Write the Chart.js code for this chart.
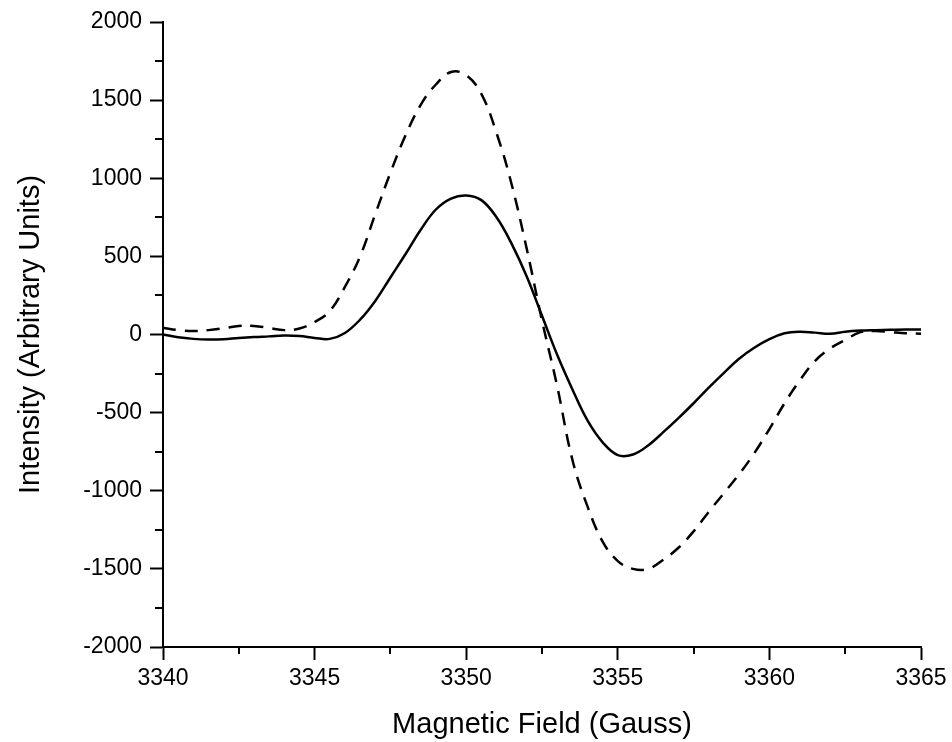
<!DOCTYPE html>
<html>
<head>
<meta charset="utf-8">
<script src="https://cdn.jsdelivr.net/npm/chart.js@4/dist/chart.umd.min.js"></script>
<style>
  body { margin: 0; background: #fff; }
  #wrap { width: 952px; height: 742px; }
</style>
</head>
<body>
<div id="wrap"><canvas id="chart"></canvas></div>
<script>
// field values (Gauss), shared by both traces
const field = [3340.0, 3340.5, 3341.0, 3341.5, 3342.0, 3342.5, 3343.0, 3343.5, 3344.0, 3344.5,
  3345.0, 3345.5, 3346.0, 3346.5, 3347.0, 3347.5, 3348.0, 3348.5, 3349.0, 3349.5,
  3350.0, 3350.5, 3351.0, 3351.5, 3352.0, 3352.5, 3353.0, 3353.5, 3354.0, 3354.5,
  3355.0, 3355.5, 3356.0, 3356.5, 3357.0, 3357.5, 3358.0, 3358.5, 3359.0, 3359.5,
  3360.0, 3360.5, 3361.0, 3361.5, 3362.0, 3362.5, 3363.0, 3363.5, 3364.0, 3364.5,
  3365.0];

// solid trace
const intensitySolid = [0, -18, -28, -32, -30, -22, -16, -12, -7, -10,
  -22, -28, 10, 95, 215, 365, 515, 670, 800, 870,
  890, 860, 750, 580, 370, 120, -130, -350, -550, -690,
  -772, -768, -710, -625, -535, -440, -340, -245, -155, -85,
  -30, 8, 18, 12, 5, 18, 25, 28, 30, 32,
  32];

// dashed trace
const intensityDashed = [43, 28, 22, 28, 40, 55, 55, 42, 28, 38,
  80, 150, 305, 500, 770, 1035, 1275, 1470, 1600, 1680,
  1660, 1540, 1290, 960, 545, 90, -330, -800, -1100, -1325,
  -1450, -1500, -1500, -1442, -1365, -1260, -1135, -1015, -895, -760,
  -605, -440, -295, -170, -90, -35, 15, 22, 15, 8,
  5];

const xMin = 3340, xMax = 3365, xStep = 5;
const yMin = -2000, yMax = 2000, yStep = 500;

const toPoints = (xs, ys) => xs.map((x, i) => ({ x: x, y: ys[i] }));

// Origin style minor ticks halfway between major ones
const minorTicks = {
  id: "minorTicks",
  afterDraw(chart) {
    const ctx = chart.ctx;
    const xs = chart.scales.x;
    const ys = chart.scales.y;
    ctx.save();
    ctx.strokeStyle = "#000";
    ctx.lineWidth = 2;
    ctx.beginPath();
    for (let v = xMin + xStep / 2; v < xMax; v += xStep) {
      const px = Math.round(xs.getPixelForValue(v));
      ctx.moveTo(px, xs.top);
      ctx.lineTo(px, xs.top + 7);
    }
    for (let v = yMin + yStep / 2; v < yMax; v += yStep) {
      const py = Math.round(ys.getPixelForValue(v));
      ctx.moveTo(ys.right, py);
      ctx.lineTo(ys.right - 8, py);
    }
    ctx.stroke();
    ctx.restore();
  },
};

const font = "'Liberation Sans', Arial, sans-serif";

new Chart(document.getElementById("chart"), {
  type: "line",
  data: {
    datasets: [
      {
        data: toPoints(field, intensityDashed),
        borderColor: "#000",
        borderWidth: 2.5,
        borderDash: [13, 9],
        pointRadius: 0,
        tension: 0.4,
        fill: false,
      },
      {
        data: toPoints(field, intensitySolid),
        borderColor: "#000",
        borderWidth: 2.5,
        pointRadius: 0,
        tension: 0.4,
        fill: false,
      },
    ],
  },
  options: {
    responsive: true,
    maintainAspectRatio: false,
    animation: false,
    layout: { padding: { top: 22, right: 31, left: 0, bottom: 0 } },
    plugins: { legend: { display: false }, tooltip: { enabled: false } },
    scales: {
      x: {
        type: "linear",
        min: xMin,
        max: xMax,
        afterFit: (scale) => { scale.height = 95; },
        grid: { drawOnChartArea: false, tickLength: 13, tickColor: "#000", tickWidth: 2 },
        border: { display: true, color: "#000", width: 2 },
        ticks: {
          stepSize: xStep,
          padding: 5,
          color: "#000",
          font: { family: font, size: 23 },
          callback: (v) => String(v),
        },
        title: {
          display: true,
          text: "Magnetic Field (Gauss)",
          color: "#000",
          font: { family: font, size: 29 },
          padding: 0,
        },
      },
      y: {
        min: yMin,
        max: yMax,
        afterFit: (scale) => { scale.width = 163; },
        grid: { drawOnChartArea: false, tickLength: 13, tickColor: "#000", tickWidth: 2 },
        border: { display: true, color: "#000", width: 2 },
        ticks: {
          stepSize: yStep,
          padding: 8,
          color: "#000",
          font: { family: font, size: 23 },
          callback: (v) => String(v),
        },
        title: {
          display: true,
          text: "Intensity (Arbitrary Units)",
          color: "#000",
          font: { family: font, size: 29 },
          padding: { top: 14, bottom: 0 },
        },
      },
    },
  },
  plugins: [minorTicks],
});
</script>
</body>
</html>
